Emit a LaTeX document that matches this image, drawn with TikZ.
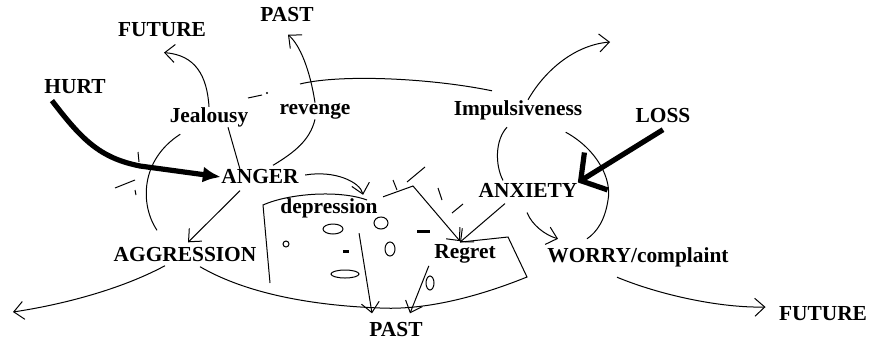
\documentclass[tikz,border=0pt]{standalone}
\usepackage{fontspec}
\setmainfont{Liberation Serif}
\usetikzlibrary{arrows.meta}

\begin{document}
\begin{tikzpicture}[x=0.5pt,y=-0.5pt,line width=0.5pt,
    font=\bfseries\fontsize{10.7}{12}\selectfont,
    >={Straight Barb[length=5pt,width=9pt]}]
  \tikzstyle{w}=[inner sep=0pt]
  \tikzstyle{heavy}=[line width=2.6pt]
  \useasboundingbox (0,0) rectangle (870,343);
  % words
  \node[w] (hurt) at (75,87) {HURT};
  \node[w] (futA) at (162,30) {FUTURE};
  \node[w] (pastA) at (287,15) {PAST};
  \node[w] (jeal) at (209,117) {Jealousy};
  \node[w] (rev) at (315,111) {revenge};
  \node[w] (impul) at (518,110) {Impulsiveness};
  \node[w] (loss) at (663,116) {LOSS};
  \node[w] (anger) at (260,177) {ANGER};
  \node[w] (depr) at (329,208) {depression};
  \node[w] (aggr) at (185,255) {AGGRESSION};
  \node[w] (anx) at (528,190) {ANXIETY};
  \node[w] (regret) at (465,254) {Regret};
  \node[w] (worry) at (638,257) {WORRY/complaint};
  \node[w] (pastB) at (396,330) {PAST};
  \node[w] (futB) at (823,314) {FUTURE};
  \coordinate (arcL) at (300,84);
  \coordinate (futC) at (610,42);
  \coordinate (farL) at (13,312);
  \coordinate (zig) at (413,186);
  % heavy arrows
  \draw[heavy,-{Latex[length=9pt,width=8pt]}] ([shift={(8,6)}]hurt.south west)
    .. controls (82,140) and (100,158) .. (140,166) -- (anger.west);
  \draw[heavy,-{Straight Barb[length=9pt,width=22pt]}] ([shift={(0,6)}]loss.south) -- (anx.north east);
  % thin connectors
  \draw[->] (jeal.north) .. controls (207,75) and (195,55) .. ([shift={(2,15)}]futA.south);
  \draw ([shift={(19,0)}]jeal.south) -- ([shift={(-20,0)}]anger.north);
  \draw[->] (rev.north) .. controls (310,70) and (300,45) .. ([shift={(1,12)}]pastA.south);
  \draw (rev.south) .. controls (310,140) and (295,152) .. ([shift={(13,-4)}]anger.north);
  \draw (arcL) .. controls (340,74) and (430,78) .. ([shift={(-26,-9)}]impul.north);
  \draw[->] ([xshift=5pt]impul.north) .. controls (545,70) and (575,45) .. (futC);
  \draw ([shift={(11,7)}]jeal.south west) .. controls (140,160) and (140,205)
    .. ([shift={(-28,-17)}]aggr.north);
  \draw[->] ([shift={(-20,6)}]anger.south) -- ([shift={(3,-5)}]aggr.north);
  \draw[->] ([shift={(6,-2)}]anger.east) .. controls (335,170) and (360,182)
    .. ([shift={(-15,-3)}]depr.north east);
  \draw[->] ([shift={(-19,15)}]depr.south east) -- ([shift={(-24,-9)}]pastB.north);
  \draw[->] ([shift={(-5,2)}]regret.south west) -- ([shift={(14,-9)}]pastB.north);
  \draw[->] ([shift={(-23,6)}]anx.south) -- ([shift={(-5,-2)}]regret.north);
  \draw[->] ([shift={(5,-1)}]depr.north east) -- (zig) -- ([shift={(-5,-3)}]regret.north);
  \draw[->] ([shift={(-20,3)}]aggr.south) .. controls (120,290) and (60,305) .. (farL);
  \draw ([shift={(-11,7)}]impul.south) .. controls (495,140) and (495,165)
    .. ([shift={(-25,-2)}]anx.north);
  \draw ([shift={(-17,12)}]impul.south east) .. controls (598,150) and (612,180) .. (608,200)
    .. controls (605,220) and (597,232) .. ([shift={(-51,-8)}]worry.north);
  \draw[->] ([shift={(-1,15)}]anx.south) .. controls (532,225) and (545,235)
    .. ([shift={(-80,-8)}]worry.north);
  \draw[->] ([shift={(-21,10)}]worry.south) .. controls (660,295) and (720,308)
    .. ([shift={(-13,-7)}]futB.west);
  % boxes round depression and Regret
  \draw (270,283) -- (263,205) .. controls (290,193) and (340,190) .. (367,200);
  \draw ([shift={(-5,-2)}]regret.north) -- (508,237) -- (527,277)
    .. controls (470,300) and (420,310) .. (380,308)
    .. controls (300,305) and (240,290) .. ([shift={(15,4)}]aggr.south);
  % scribbles
  \draw (248,98) -- (262,95);
  \fill (267,93) circle (1.2);
  \draw (115,188) -- (135,180) (135,190) -- (136,195) (138,152) -- (139,162);
  \draw (393,180) -- (397,190) (407,182) -- (425,167) (438,188) -- (442,200) (452,213) -- (463,204);
  \draw[line width=1.5pt] (417,231) -- (430,231) (343,251) -- (349,251);
  \draw (333,229) ellipse (10 and 5) (381,223) ellipse (7 and 6) (286,244) circle (3)
    (390,249) ellipse (5 and 7) (345,274) ellipse (14 and 4) (430,283) ellipse (4 and 7);
\end{tikzpicture}
\end{document}
